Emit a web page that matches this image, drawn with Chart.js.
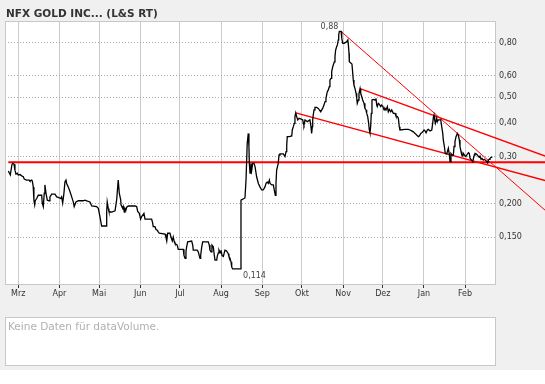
<!DOCTYPE html>
<html><head><meta charset="utf-8">
<script src="https://cdn.jsdelivr.net/npm/chart.js@4.4.0/dist/chart.umd.min.js"></script>
<style>html,body{margin:0;padding:0;background:#fff;}canvas{display:block;}</style>
</head><body>
<canvas id="c" width="545" height="384"></canvas>
<script>
// x axis: calendar days counted from 1 March
const monthTickDays = [0,31,61,92,122,153,184,214,245,275,306,337];
const monthLabels = ['Mrz','Apr','Mai','Jun','Jul','Aug','Sep','Okt','Nov','Dez','Jan','Feb'];
const priceTicks = [0.15,0.2,0.3,0.4,0.5,0.6,0.8];
const priceTickLabels = ['0,150','0,200','0,30','0,40','0,50','0,60','0,80'];

const days = [
-7.5,-6.0,-4.8,-4.2,-3.2,-2.5,-1.7,-0.8,0,1.3,
2.6,3.8,4.5,6.3,8.3,8.8,10.1,10.6,11.3,11.8,
12.4,12.8,13.9,15.1,17.7,18.1,18.9,19.6,20.1,20.9,
21.9,23.4,23.9,25.2,27.7,29.0,30.2,32.0,32.7,33.5,
34.5,35.2,36.0,36.5,37.7,39.0,40.3,41.5,42.2,43.5,
45.3,49.0,50.3,51.6,54.1,55.4,59.1,60.4,61.6,62.9,
66.2,66.7,67.1,67.9,68.4,70.5,73.0,74.2,75.4,76.2,
77.3,77.5,78.8,79.2,80.0,80.5,81.2,81.8,83.0,88.0,
89.3,90.1,91.3,92.3,93.1,94.8,95.6,100.6,101.4,101.8,
103.1,103.9,104.9,105.6,106.4,110.7,111.4,112.0,112.7,114.4,
115.2,116.2,116.9,117.7,118.2,119.9,120.7,124.5,125.0,125.8,
126.5,127.0,127.8,130.8,131.6,132.0,135.0,135.8,136.5,137.1,
137.6,138.4,139.1,143.3,144.1,144.6,145.4,146.1,147.1,147.9,
148.4,149.7,150.1,150.9,151.4,152.2,152.9,153.7,154.7,155.9,
157.2,158.4,158.9,159.7,160.5,161.0,161.7,166.0,167.3,168.0,
171.0,171.8,172.7,173.5,174.0,174.3,174.8,175.5,176.1,176.8,
177.8,178.6,179.8,181.1,182.3,183.6,184.8,186.1,186.9,187.8,
188.6,189.4,189.9,191.2,192.4,193.1,193.9,194.4,194.9,196.1,
196.7,197.4,199.9,201.2,202.0,202.5,202.9,204.4,206.3,206.7,
207.5,208.2,208.7,209.3,210.0,210.8,211.8,213.8,214.6,215.0,
215.5,216.3,218.0,220.0,220.8,221.3,221.8,222.1,222.5,223.1,
223.8,225.1,226.3,227.1,228.1,228.9,229.6,230.6,231.4,232.1,
233.1,233.9,234.6,235.1,235.9,236.4,237.2,238.4,238.9,239.4,
240.2,240.7,241.4,241.7,242.2,243.5,244.0,244.8,245.8,247.8,
248.6,249.0,249.5,249.7,251.7,252.7,253.2,254.0,254.8,255.3,
255.7,256.5,257.0,257.8,258.3,259.1,259.8,260.8,261.5,262.3,
262.8,263.6,264.3,264.8,265.3,265.8,266.3,266.8,267.8,269.1,
269.8,270.4,270.8,271.6,272.3,273.4,274.1,274.9,275.9,276.6,
277.4,278.4,279.1,279.9,280.9,281.7,282.9,284.2,284.9,285.9,
286.7,287.4,287.9,291.7,294.2,295.5,296.8,298.0,299.3,300.5,
301.8,302.5,303.6,304.3,305.1,306.1,306.8,307.6,308.6,309.3,
310.6,311.9,312.6,313.1,313.6,314.1,314.6,315.6,316.1,316.9,
318.1,318.7,319.4,320.2,320.6,321.4,322.1,323.2,324.4,325.1,
325.7,326.4,327.2,328.2,328.7,329.4,330.2,331.2,331.9,332.7,
333.2,334.0,334.5,335.3,335.7,336.5,337.7,338.3,339.5,340.2,
340.8,342.0,342.8,343.2,344.0,344.5,345.3,346.3,347.1,347.8,
348.3,349.1,349.8,350.8,351.6,352.9,353.4,354.1,354.6,355.3,
355.8,356.6,357.1
];
const prices = [
0.265,0.256,0.279,0.283,0.281,0.267,0.258,0.260,0.256,0.257,
0.254,0.252,0.247,0.245,0.245,0.243,0.245,0.243,0.231,0.206,
0.198,0.205,0.209,0.215,0.215,0.201,0.195,0.219,0.235,0.219,
0.206,0.205,0.212,0.217,0.217,0.212,0.211,0.209,0.212,0.201,
0.220,0.241,0.245,0.238,0.231,0.222,0.212,0.203,0.195,0.203,
0.205,0.205,0.206,0.205,0.203,0.196,0.195,0.192,0.179,0.165,
0.165,0.187,0.203,0.192,0.187,0.186,0.188,0.206,0.245,0.219,
0.206,0.198,0.192,0.195,0.186,0.192,0.189,0.194,0.196,0.196,
0.195,0.187,0.184,0.175,0.179,0.184,0.175,0.175,0.169,0.164,
0.164,0.160,0.159,0.157,0.155,0.154,0.150,0.145,0.155,0.155,
0.150,0.145,0.150,0.144,0.142,0.140,0.135,0.135,0.128,0.125,
0.132,0.138,0.144,0.145,0.140,0.134,0.134,0.132,0.128,0.125,
0.128,0.138,0.144,0.144,0.140,0.134,0.132,0.140,0.138,0.128,
0.123,0.123,0.127,0.131,0.134,0.131,0.134,0.128,0.127,0.134,
0.133,0.130,0.127,0.125,0.121,0.116,0.114,0.114,0.114,0.206,
0.210,0.245,0.336,0.366,0.327,0.283,0.260,0.283,0.267,0.283,
0.283,0.275,0.252,0.238,0.231,0.225,0.225,0.231,0.238,0.241,
0.238,0.245,0.238,0.235,0.235,0.225,0.215,0.238,0.267,0.283,
0.304,0.307,0.307,0.300,0.313,0.331,0.356,0.356,0.358,0.377,
0.388,0.399,0.423,0.437,0.423,0.411,0.417,0.413,0.411,0.399,
0.393,0.411,0.405,0.411,0.388,0.366,0.388,0.411,0.429,0.448,
0.458,0.458,0.454,0.448,0.441,0.448,0.454,0.467,0.481,0.495,
0.524,0.532,0.547,0.580,0.588,0.622,0.650,0.678,0.709,0.750,
0.773,0.784,0.818,0.854,0.880,0.880,0.830,0.795,0.795,0.806,
0.818,0.784,0.730,0.678,0.665,0.580,0.555,0.538,0.517,0.495,
0.474,0.488,0.517,0.538,0.517,0.502,0.488,0.474,0.454,0.448,
0.435,0.423,0.399,0.377,0.368,0.388,0.435,0.488,0.490,0.488,
0.495,0.467,0.461,0.474,0.471,0.461,0.467,0.463,0.448,0.454,
0.448,0.461,0.441,0.450,0.441,0.448,0.435,0.435,0.425,0.423,
0.417,0.388,0.377,0.379,0.379,0.377,0.374,0.371,0.366,0.361,
0.356,0.358,0.366,0.368,0.371,0.377,0.374,0.368,0.377,0.379,
0.374,0.377,0.399,0.420,0.429,0.411,0.399,0.417,0.405,0.411,
0.411,0.411,0.388,0.366,0.346,0.327,0.308,0.307,0.322,0.307,
0.287,0.308,0.304,0.304,0.327,0.341,0.356,0.366,0.361,0.346,
0.327,0.313,0.304,0.301,0.308,0.304,0.300,0.304,0.310,0.308,
0.295,0.291,0.287,0.293,0.304,0.308,0.307,0.304,0.300,0.298,
0.301,0.293,0.295,0.291,0.293,0.289,0.287,0.284,0.291,0.293,
0.295,0.298,0.300
];

// drawn trend lines (start / end in days and price)
const supportDays = [-7.5, 397.4];
const supportPrices = [0.2854, 0.2854];
const trendPeakDays = [243.5, 397.4];
const trendPeakPrices = [0.88, 0.189];
const trendMidDays = [257.8, 397.4];
const trendMidPrices = [0.538, 0.301];
const trendLowDays = [209.3, 397.4];
const trendLowPrices = [0.437, 0.244];

// extreme value annotations
const extremeDays = [242.2, 167.3];
const extremePrices = [0.88, 0.114];
const extremeLabels = ['0,88', '0,114'];

const titleText = 'NFX GOLD INC... (L&S RT)';
const volumeText = 'Keine Daten für dataVolume.';

const toPts = (ds, ps) => ds.map((d, i) => ({x: d, y: ps[i]}));

const decor = {
  id: 'decor',
  beforeDraw(chart) {
    const c = chart.ctx, a = chart.chartArea;
    c.save();
    c.fillStyle = '#f0f0f0'; c.fillRect(0, 0, 545, 370);
    c.fillStyle = '#ffffff'; c.fillRect(0, 370, 545, 14);
    c.fillRect(a.left, a.top, a.right - a.left, a.bottom - a.top);
    // volume panel
    c.fillRect(5, 317, 490, 48);
    c.strokeStyle = '#c8c8c8'; c.lineWidth = 1;
    c.strokeRect(5.5, 317.5, 490, 48);
    c.font = '10.5px "DejaVu Sans"'; c.fillStyle = '#b0b0b0';
    c.textBaseline = 'alphabetic'; c.textAlign = 'left';
    c.fillText(volumeText, 8, 330);
    c.font = 'bold 10.5px "DejaVu Sans"'; c.fillStyle = '#333333';
    c.fillText(titleText, 6, 17);
    c.restore();
  },
  beforeDatasetsDraw(chart) {
    const c = chart.ctx, a = chart.chartArea;
    c.save();
    c.strokeStyle = '#c8c8c8'; c.lineWidth = 1;
    c.strokeRect(a.left + 0.5, a.top + 0.5, a.right - a.left, a.bottom - a.top - 1);
    c.restore();
  },
  afterDatasetsDraw(chart) {
    const c = chart.ctx, xs = chart.scales.x, ys = chart.scales.y;
    c.save();
    c.font = '8px "DejaVu Sans"'; c.fillStyle = '#444444';
    c.textBaseline = 'alphabetic';
    let px = xs.getPixelForValue(extremeDays[0]), py = ys.getPixelForValue(extremePrices[0]);
    c.textAlign = 'right'; c.fillText(extremeLabels[0], px - 1, py - 2);
    px = xs.getPixelForValue(extremeDays[1]); py = ys.getPixelForValue(extremePrices[1]);
    c.textAlign = 'left'; c.fillText(extremeLabels[1], px + 3, py + 9);
    c.restore();
  }
};

new Chart(document.getElementById('c'), {
  type: 'line',
  data: {
    datasets: [
      {data: toPts(days, prices), borderColor: '#000000', borderWidth: 1.3, pointRadius: 0, tension: 0},
      {data: toPts(supportDays, supportPrices), borderColor: '#ff0000', borderWidth: 2, pointRadius: 0, clip: false},
      {data: toPts(trendPeakDays, trendPeakPrices), borderColor: '#ff0000', borderWidth: 1, pointRadius: 0, clip: false},
      {data: toPts(trendMidDays, trendMidPrices), borderColor: '#ff0000', borderWidth: 1.4, pointRadius: 0, clip: false},
      {data: toPts(trendLowDays, trendLowPrices), borderColor: '#ff0000', borderWidth: 1.4, pointRadius: 0, clip: false}
    ]
  },
  options: {
    responsive: false, animation: false, devicePixelRatio: 1,
    layout: {padding: {left: 5, top: 21, right: 0, bottom: 0}},
    plugins: {legend: {display: false}, tooltip: {enabled: false}, title: {display: false}},
    scales: {
      x: {
        type: 'linear', min: -10, max: 359.6, position: 'bottom',
        afterBuildTicks: s => { s.ticks = monthTickDays.map(v => ({value: v})); },
        afterFit: s => { s.height = 99; },
        ticks: {autoSkip: false, maxRotation: 0, padding: 1, color: '#333333',
          font: {family: 'DejaVu Sans', size: 8},
          callback: (v, i) => monthLabels[i]},
        grid: {color: '#cccccc', lineWidth: 1, drawTicks: true, tickLength: 3, tickColor: '#333333'},
        border: {display: false}
      },
      y: {
        type: 'logarithmic', position: 'right', min: 0.0993, max: 0.963,
        afterBuildTicks: s => { s.ticks = priceTicks.map(v => ({value: v})); },
        afterFit: s => { s.width = 50; },
        ticks: {autoSkip: false, padding: 4, color: '#333333',
          font: {family: 'DejaVu Sans', size: 8},
          callback: (v, i) => priceTickLabels[i]},
        grid: {color: '#a8a8a8', lineWidth: 1, drawTicks: false},
        border: {display: false, dash: [1, 2]}
      }
    }
  },
  plugins: [decor]
});
</script>
</body></html>
